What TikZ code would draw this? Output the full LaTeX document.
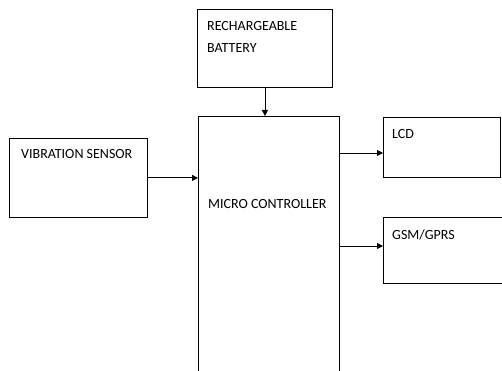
\documentclass[tikz,border=0pt]{standalone}
\usepackage{fontspec}
\setmainfont{Carlito}
\usetikzlibrary{arrows.meta}
\begin{document}
\begin{tikzpicture}[x=1pt,y=-1pt,
  blk/.style={draw=black,line width=0.9pt,rectangle,inner sep=0pt,anchor=north west},
  lbl/.style={inner sep=0pt,anchor=base west,font=\fontsize{14}{16}\selectfont},
  conn/.style={line width=0.9pt,-{Triangle[length=6pt,width=6pt]}}]
\clip (0,0) rectangle (502,371);
\node[blk,minimum width=135pt,minimum height=78pt] (bat) at (197,9) {};
\node[blk,minimum width=141pt,minimum height=300pt] (mc) at (198,116) {};
\node[blk,minimum width=138pt,minimum height=79pt] (vib) at (9,138) {};
\node[blk,minimum width=117pt,minimum height=60pt] (lcd) at (383,117) {};
\node[blk,minimum width=140pt,minimum height=66pt] (gsm) at (383,217) {};
\node[lbl] (t1) at (207,31) {RECHARGEABLE};
\node[lbl] (t2) at (207,53) {BATTERY};
\node[lbl] (t3) at (21,159) {VIBRATION SENSOR};
\node[lbl] (t4) at (208,208) {MICRO CONTROLLER};
\node[lbl] (t5) at (392,139) {LCD};
\node[lbl] (t6) at (392,239) {GSM/GPRS};
\coordinate (a1) at (0,153);
\coordinate (a2) at (0,246);
\draw[conn] (bat.south) -- (bat.south |- mc.north);
\draw[conn] (vib.east) -- (vib.east -| mc.west);
\draw[conn] (mc.east |- a1) -- (lcd.west |- a1);
\draw[conn] (mc.east |- a2) -- (gsm.west |- a2);
\end{tikzpicture}
\end{document}
